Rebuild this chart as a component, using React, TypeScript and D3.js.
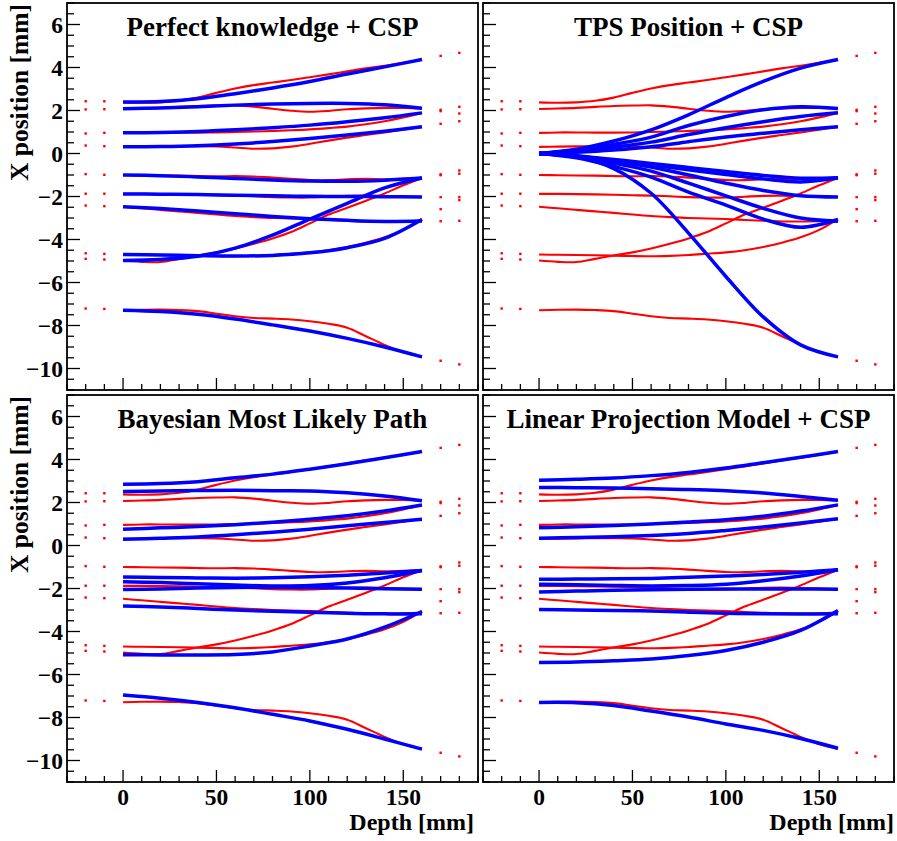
import React from 'react';
import * as d3 from 'd3';

const FONT = '"Liberation Serif", "Times New Roman", serif';

// depth samples (mm) for the true paths and for the estimated paths
const trueDepths = [0, 10, 20, 30, 40, 50, 60, 70, 80, 90, 100, 110, 120, 130, 140, 150, 160];
const fitDepths = [0, 20, 40, 60, 80, 100, 120, 140, 160];

// tracker planes and the hits on them (X in mm)
const frontPlanes = [-20, -10];
const rearPlanes = [170, 180];
const hitsAtM20 = [2.43, 2.05, 0.93, 0.37, -0.96, -1.87, -2.42, -4.64, -4.9, -7.21];
const hitsAtM10 = [2.43, 2.06, 0.96, 0.34, -0.99, -1.87, -2.45, -4.67, -4.93, -7.23];
const hitsAt170 = [4.54, 2.03, 1.97, 1.38, -0.97, -1.01, -2.03, -2.59, -3.15, -9.64];
const hitsAt180 = [4.68, 2.17, 1.86, 1.5, -0.79, -0.94, -2.03, -2.17, -3.13, -9.81];

// true (simulated) proton paths, sampled at trueDepths
const truePaths = [
  [2.38, 2.36, 2.38, 2.45, 2.6, 2.82, 3.02, 3.18, 3.3, 3.42, 3.55, 3.68, 3.82, 3.96, 4.08, 4.22, 4.37],
  [2.07, 2.09, 2.12, 2.17, 2.21, 2.23, 2.24, 2.18, 2.08, 1.99, 1.94, 1.98, 2.06, 2.1, 2.12, 2.12, 2.09],
  [0.96, 0.98, 0.98, 0.97, 0.97, 0.98, 1.0, 1.02, 1.05, 1.08, 1.12, 1.18, 1.25, 1.36, 1.5, 1.68, 1.89],
  [0.31, 0.32, 0.33, 0.34, 0.34, 0.33, 0.28, 0.22, 0.24, 0.32, 0.45, 0.6, 0.74, 0.86, 0.98, 1.11, 1.24],
  [-1.0, -1.01, -1.02, -1.03, -1.05, -1.06, -1.05, -1.07, -1.12, -1.18, -1.23, -1.24, -1.2, -1.18, -1.2, -1.18, -1.14],
  [-1.88, -1.88, -1.89, -1.9, -1.92, -1.94, -1.96, -1.99, -2.03, -2.05, -2.05, -2.01, -1.97, -1.96, -1.98, -2.0, -2.02],
  [-2.48, -2.55, -2.62, -2.69, -2.76, -2.84, -2.91, -2.96, -3.0, -3.02, -3.05, -3.09, -3.13, -3.16, -3.16, -3.15, -3.12],
  [-4.7, -4.71, -4.72, -4.73, -4.75, -4.77, -4.78, -4.76, -4.72, -4.66, -4.6, -4.5, -4.35, -4.15, -3.9, -3.55, -3.05],
  [-4.98, -5.04, -5.05, -4.9, -4.74, -4.6, -4.42, -4.2, -3.95, -3.65, -3.25, -2.84, -2.52, -2.2, -1.86, -1.48, -1.14],
  [-7.29, -7.27, -7.26, -7.28, -7.33, -7.45, -7.57, -7.65, -7.68, -7.72, -7.8, -7.92, -8.1, -8.5, -8.9, -9.25, -9.46],
];

// estimated paths, sampled at fitDepths
const perfectPaths = [
  [2.4, 2.42, 2.55, 2.78, 3.05, 3.35, 3.7, 4.03, 4.37],
  [2.08, 2.12, 2.18, 2.25, 2.3, 2.33, 2.33, 2.27, 2.1],
  [0.96, 0.98, 1.02, 1.1, 1.2, 1.32, 1.48, 1.66, 1.89],
  [0.31, 0.32, 0.36, 0.44, 0.56, 0.7, 0.86, 1.04, 1.24],
  [-1.0, -1.03, -1.09, -1.16, -1.23, -1.28, -1.29, -1.24, -1.14],
  [-1.88, -1.89, -1.91, -1.94, -1.97, -1.99, -2.0, -2.01, -2.02],
  [-2.48, -2.56, -2.67, -2.8, -2.93, -3.03, -3.11, -3.16, -3.14],
  [-4.7, -4.72, -4.75, -4.77, -4.74, -4.62, -4.38, -3.95, -3.07],
  [-4.98, -4.93, -4.78, -4.4, -3.8, -3.05, -2.32, -1.6, -1.14],
  [-7.29, -7.35, -7.48, -7.7, -7.97, -8.26, -8.6, -9.0, -9.46],
];

const tpsPaths = [
  [0, 0.2, 0.58, 1.1, 1.8, 2.6, 3.35, 3.97, 4.37],
  [0, 0.15, 0.42, 0.76, 1.3, 1.72, 2.03, 2.17, 2.09],
  [0, 0.12, 0.3, 0.53, 0.88, 1.2, 1.48, 1.72, 1.89],
  [0, 0.06, 0.16, 0.31, 0.55, 0.77, 0.94, 1.1, 1.24],
  [0, -0.1, -0.28, -0.46, -0.65, -0.84, -1.02, -1.15, -1.13],
  [0, -0.12, -0.33, -0.54, -0.76, -0.98, -1.18, -1.32, -1.13],
  [0, -0.13, -0.38, -0.63, -1.0, -1.38, -1.72, -1.96, -2.02],
  [0, -0.15, -0.45, -0.82, -1.38, -1.97, -2.55, -3.0, -3.15],
  [0, -0.2, -0.6, -1.1, -1.8, -2.4, -3.05, -3.43, -3.07],
  [0, -0.15, -0.7, -1.85, -3.7, -5.72, -7.6, -8.9, -9.46],
];

const mlpPaths = [
  [2.85, 2.88, 2.97, 3.15, 3.32, 3.55, 3.8, 4.08, 4.37],
  [2.51, 2.53, 2.56, 2.57, 2.55, 2.54, 2.45, 2.3, 2.08],
  [0.76, 0.82, 0.88, 0.97, 1.08, 1.22, 1.38, 1.6, 1.88],
  [0.29, 0.34, 0.4, 0.5, 0.62, 0.76, 0.92, 1.07, 1.22],
  [-1.47, -1.49, -1.51, -1.52, -1.5, -1.45, -1.38, -1.28, -1.16],
  [-1.69, -1.72, -1.78, -1.84, -1.88, -1.86, -1.74, -1.5, -1.16],
  [-2.05, -2.02, -1.98, -1.95, -1.94, -1.95, -1.98, -2.01, -2.03],
  [-2.81, -2.86, -2.93, -3.0, -3.06, -3.11, -3.15, -3.18, -3.17],
  [-5.08, -5.09, -5.09, -5.07, -4.95, -4.67, -4.35, -3.8, -3.07],
  [-6.95, -7.1, -7.3, -7.55, -7.85, -8.16, -8.55, -9.0, -9.47],
];

const linearPaths = [
  [3.04, 3.08, 3.14, 3.25, 3.4, 3.6, 3.85, 4.1, 4.37],
  [2.7, 2.69, 2.67, 2.64, 2.6, 2.55, 2.44, 2.28, 2.1],
  [0.82, 0.87, 0.93, 1.0, 1.09, 1.2, 1.36, 1.6, 1.89],
  [0.34, 0.37, 0.41, 0.47, 0.56, 0.7, 0.86, 1.05, 1.24],
  [-1.57, -1.56, -1.55, -1.53, -1.48, -1.42, -1.35, -1.25, -1.13],
  [-1.8, -1.83, -1.86, -1.88, -1.86, -1.8, -1.64, -1.42, -1.13],
  [-2.16, -2.12, -2.08, -2.06, -2.04, -2.02, -2.02, -2.02, -2.03],
  [-2.98, -3.0, -3.02, -3.05, -3.1, -3.15, -3.18, -3.19, -3.18],
  [-5.44, -5.42, -5.36, -5.28, -5.12, -4.88, -4.5, -3.95, -3.02],
  [-7.3, -7.31, -7.44, -7.7, -7.98, -8.3, -8.6, -8.98, -9.43],
];

const W = 411;
const H = 387;

const panels = [
  { x0: 67, y0: 3, title: 'Perfect knowledge + CSP', fits: perfectPaths, yLab: true, xLab: false, xEnd: 474 },
  { x0: 483, y0: 3, title: 'TPS Position + CSP', fits: tpsPaths, yLab: false, xLab: false, xEnd: 894 },
  { x0: 67, y0: 395, title: 'Bayesian Most Likely Path', fits: mlpPaths, yLab: true, xLab: true, xEnd: 474 },
  { x0: 483, y0: 395, title: 'Linear Projection Model + CSP', fits: linearPaths, yLab: false, xLab: true, xEnd: 894 },
];

function Panel({ x0, y0, title, fits, yLab, xLab, xEnd }) {
  const x = d3.scaleLinear().domain([-30, 190]).range([x0, x0 + W]);
  const y = d3.scaleLinear().domain([-11, 7]).range([y0 + H, y0]);

  const redLine = d3
    .line<number>()
    .x((_, i) => x(trueDepths[i]))
    .y((d) => y(d))
    .curve(d3.curveCatmullRom.alpha(0.5));
  const blueLine = d3
    .line<number>()
    .x((_, i) => x(fitDepths[i]))
    .y((d) => y(d))
    .curve(d3.curveCatmullRom.alpha(0.5));

  const yTicks = d3.range(-11, 7.001, 0.5);
  const xTicks = d3.range(-30, 190.001, 10);
  const fmt = d3.format('d');

  const hitSets = [
    [frontPlanes[0], hitsAtM20],
    [frontPlanes[1], hitsAtM10],
    [rearPlanes[0], hitsAt170],
    [rearPlanes[1], hitsAt180],
  ];

  return (
    <g>
      <rect x={x0} y={y0} width={W} height={H} fill="#fff" />
      {truePaths.map((p, i) => (
        <path key={'r' + i} d={redLine(p)} fill="none" stroke="#ff0000" strokeWidth={2.1} />
      ))}
      {hitSets.map(([z, vals]) =>
        vals.map((v, i) => (
          <rect key={z + '-' + i} x={x(z) - 1.2} y={y(v) - 1.2} width={2.4} height={2.4} fill="#ff0000" />
        ))
      )}
      {fits.map((p, i) => (
        <path key={'b' + i} d={blueLine(p)} fill="none" stroke="#0000ff" strokeWidth={3.5} />
      ))}
      {yTicks.map((t) => {
        const major = Math.abs(t % 2) < 1e-6;
        return (
          <line key={'yt' + t} x1={x0} x2={x0 + (major ? 13 : 7)} y1={y(t)} y2={y(t)} stroke="#000" strokeWidth={1.3} />
        );
      })}
      {xTicks.map((t) => {
        const major = Math.abs(t % 50) < 1e-6;
        return (
          <line key={'xt' + t} x1={x(t)} x2={x(t)} y1={y0 + H} y2={y0 + H - (major ? 12 : 6)} stroke="#000" strokeWidth={1.3} />
        );
      })}
      <rect x={x0} y={y0} width={W} height={H} fill="none" stroke="#000" strokeWidth={1.8} />
      {yLab &&
        d3.range(-10, 7, 2).map((t) => (
          <text key={'yl' + t} x={x0 - 4} y={y(t)} dy="0.36em" textAnchor="end" fontFamily={FONT} fontWeight="bold" fontSize={23.5}>
            {fmt(t)}
          </text>
        ))}
      {xLab &&
        [0, 50, 100, 150].map((t) => (
          <text key={'xl' + t} x={x(t)} y={y0 + H + 23} textAnchor="middle" fontFamily={FONT} fontWeight="bold" fontSize={23.5}>
            {fmt(t)}
          </text>
        ))}
      {xLab && (
        <text x={xEnd} y={830} textAnchor="end" fontFamily={FONT} fontWeight="bold" fontSize={24}>
          Depth [mm]
        </text>
      )}
      {yLab && (
        <text transform={`translate(28,${y0 + 1}) rotate(-90)`} textAnchor="end" fontFamily={FONT} fontWeight="bold" fontSize={25.5}>
          X position [mm]
        </text>
      )}
      <text x={x0 + W / 2} y={y0 + 33} textAnchor="middle" fontFamily={FONT} fontWeight="bold" fontSize={27}>
        {title}
      </text>
    </g>
  );
}

export default function App() {
  return (
    <svg width={897} height={841} style={{ position: 'absolute', left: 0, top: 0, background: '#fff' }}>
      <rect width={897} height={841} fill="#fff" />
      {panels.map((p) => (
        <Panel key={p.title} {...p} />
      ))}
    </svg>
  );
}
